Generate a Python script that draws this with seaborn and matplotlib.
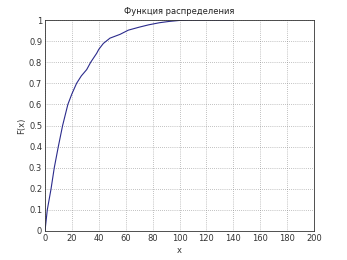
import matplotlib
matplotlib.use("Agg")
import matplotlib.pyplot as plt
import seaborn as sns
import pandas as pd

x_vals = [0, 1.7, 4.5, 6.9, 9.9, 13.1, 17, 20, 23.5, 27, 31, 34, 38.4, 40, 43.4, 48.3, 55.8, 62, 70, 77, 85, 92, 100, 110, 140]
F_vals = [0, 0.1, 0.2, 0.3, 0.4, 0.5, 0.6, 0.65, 0.7, 0.735, 0.765, 0.8, 0.842, 0.861, 0.889, 0.914, 0.932, 0.952, 0.966, 0.977, 0.987, 0.993, 0.998, 1.0, 1.0]
x_ticks = [0, 20, 40, 60, 80, 100, 120, 140, 160, 180, 200]
y_ticks = [0, 0.1, 0.2, 0.3, 0.4, 0.5, 0.6, 0.7, 0.8, 0.9, 1]
y_labels = ["0", "0.1", "0.2", "0.3", "0.4", "0.5", "0.6", "0.7", "0.8", "0.9", "1"]

sns.set_style("white")
plt.rcParams['font.family'] = ['DejaVu Sans']

df = pd.DataFrame({"x": x_vals, "F": F_vals})
fig = plt.figure(figsize=(3.47, 2.60), dpi=100)
ax = fig.add_axes([45/347, 1-231/260, (314-45)/347, (231-20)/260])
sns.lineplot(data=df, x="x", y="F", ax=ax, color="#2b2b8c", linewidth=0.8, sort=False)
ax.set_xlim(0, 200)
ax.set_ylim(0, 1)
ax.set_xticks(x_ticks)
ax.set_yticks(y_ticks)
ax.set_yticklabels(y_labels)
ax.grid(True, linestyle=(0, (1, 2)), color="#888888", linewidth=0.5)
ax.tick_params(direction="in", length=2, labelsize=6, colors="#333333", pad=2)
for s in ax.spines.values():
    s.set_color("#333333")
    s.set_linewidth(0.6)
ax.set_xlabel("x", fontsize=6, color="#333333", labelpad=2)
ax.set_ylabel("F(x)", fontsize=6, color="#333333", labelpad=2)
ax.set_title("Функция распределения", fontsize=6, color="#222222", pad=4)
fig.savefig("out.png", dpi=100, facecolor="white")
